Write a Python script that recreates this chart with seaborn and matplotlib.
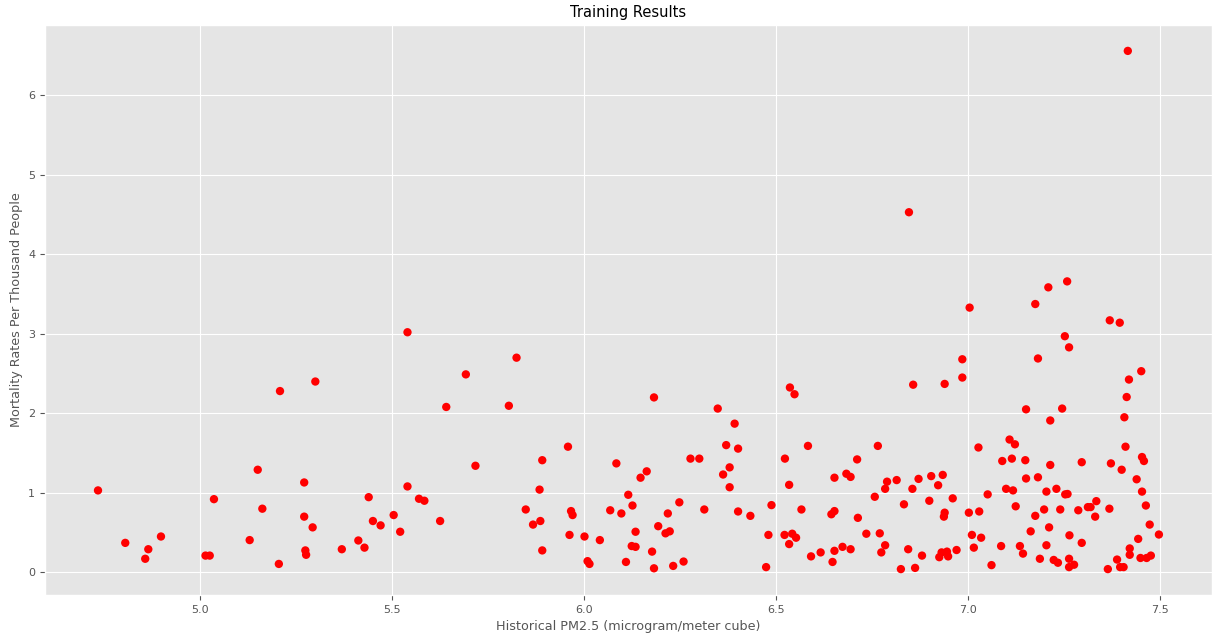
import matplotlib
matplotlib.use("Agg")
import matplotlib.pyplot as plt
import seaborn as sns
import pandas as pd

# Historical PM2.5 exposure (log scale units) and mortality per thousand people
pm25 = [
    4.735, 4.806, 4.866, 4.858, 4.899, 5.015, 5.026, 5.037, 5.130, 5.151, 5.163,
    5.541, 5.209, 5.301, 5.272, 5.272, 5.294, 5.275, 5.277, 5.206, 5.370, 5.413,
    5.429, 5.440, 5.451, 5.471, 5.505, 5.522, 5.541, 5.571, 5.585,
    5.626, 5.642, 5.693, 5.718, 5.805, 5.825, 5.849, 5.868, 5.887, 5.885, 5.892,
    5.892, 5.959, 5.967, 5.971, 5.963, 6.002, 6.010, 6.015, 6.042, 6.085, 6.069,
    6.098, 6.116, 6.127, 6.110, 6.125, 6.135, 6.135,
    6.148, 6.164, 6.183, 6.349, 6.393, 6.371, 6.402, 6.278, 6.301, 6.380, 6.363,
    6.380, 6.249, 6.219, 6.194, 6.213, 6.224, 6.314, 6.178, 6.183, 6.233, 6.260,
    6.402, 6.434, 6.489, 6.481, 6.475, 6.537, 6.549, 6.584, 6.524, 6.535, 6.567,
    6.523, 6.543, 6.553, 6.535, 6.592, 6.617, 6.645, 6.653, 6.648, 6.653, 6.653,
    7.005, 6.986, 6.986, 6.858, 6.940, 7.152, 6.766, 6.712, 6.684, 6.695, 6.790,
    6.785, 6.815, 6.872, 6.856, 6.905, 6.935, 6.923, 7.028, 7.090, 7.115, 7.109,
    7.123, 7.150, 7.152, 7.100, 7.118, 7.052, 6.758, 6.834, 6.900, 6.961, 6.714,
    6.940, 6.938, 7.003, 7.030, 7.125, 6.736, 6.771, 6.785, 6.674, 6.695, 6.775,
    6.845, 6.881, 6.826, 6.863, 6.926, 6.932, 6.946, 6.949, 6.971, 7.011, 7.035,
    7.016, 7.062, 7.087, 7.136, 7.144, 7.164,
    7.259, 7.210, 7.176, 7.370, 7.396, 7.253, 7.264, 7.183, 7.452, 7.420, 7.414,
    7.408, 7.246, 7.215, 7.411, 7.297, 7.373, 7.454, 7.459, 7.215, 7.183, 7.401,
    7.440, 7.205, 7.231, 7.254, 7.260, 7.335, 7.313, 7.320, 7.288, 7.332, 7.369,
    7.454, 7.464, 7.474, 7.498, 7.199, 7.241, 7.176, 7.212, 7.265, 7.205, 7.297,
    7.188, 7.224, 7.235, 7.264, 7.264, 7.277, 7.365, 7.389, 7.397, 7.406, 7.422,
    7.422, 7.444, 7.450, 7.466, 7.477,
    7.417, 6.847,
]

mortality = [
    1.03, 0.37, 0.29, 0.17, 0.45, 0.21, 0.21, 0.92, 0.405, 1.29, 0.80,
    3.02, 2.28, 2.40, 1.13, 0.70, 0.565, 0.275, 0.22, 0.105, 0.29, 0.40,
    0.31, 0.945, 0.645, 0.59, 0.72, 0.51, 1.08, 0.925, 0.90,
    0.645, 2.08, 2.49, 1.34, 2.095, 2.70, 0.79, 0.60, 0.645, 1.04, 1.41,
    0.275, 1.58, 0.77, 0.72, 0.47, 0.45, 0.14, 0.105, 0.405, 1.37, 0.78,
    0.74, 0.975, 0.84, 0.13, 0.33, 0.32, 0.51,
    1.19, 1.27, 2.20, 2.06, 1.87, 1.60, 1.556, 1.43, 1.43, 1.32, 1.23,
    1.07, 0.88, 0.74, 0.58, 0.49, 0.515, 0.79, 0.26, 0.05, 0.08, 0.135,
    0.765, 0.71, 0.845, 0.47, 0.065, 2.325, 2.24, 1.59, 1.43, 1.10, 0.79,
    0.47, 0.485, 0.435, 0.355, 0.20, 0.25, 0.73, 0.77, 0.13, 0.27, 1.19,
    3.33, 2.68, 2.45, 2.36, 2.37, 2.05, 1.59, 1.42, 1.24, 1.20, 1.14,
    1.05, 1.16, 1.175, 1.05, 1.21, 1.225, 1.095, 1.57, 1.40, 1.43, 1.67,
    1.61, 1.41, 1.18, 1.05, 1.03, 0.98, 0.95, 0.855, 0.90, 0.93, 0.685,
    0.75, 0.70, 0.75, 0.765, 0.83, 0.485, 0.49, 0.34, 0.32, 0.29, 0.25,
    0.29, 0.21, 0.04, 0.055, 0.19, 0.25, 0.26, 0.20, 0.28, 0.47, 0.435,
    0.31, 0.09, 0.33, 0.33, 0.235, 0.515,
    3.66, 3.585, 3.375, 3.17, 3.14, 2.97, 2.83, 2.69, 2.53, 2.425, 2.205,
    1.95, 2.06, 1.91, 1.58, 1.385, 1.37, 1.45, 1.40, 1.35, 1.195, 1.29,
    1.17, 1.015, 1.05, 0.98, 0.985, 0.895, 0.82, 0.82, 0.78, 0.70, 0.80,
    1.015, 0.84, 0.60, 0.475, 0.79, 0.79, 0.71, 0.565, 0.465, 0.34, 0.37,
    0.17, 0.155, 0.12, 0.17, 0.065, 0.095, 0.04, 0.16, 0.065, 0.065, 0.22,
    0.30, 0.42, 0.18, 0.18, 0.21,
    6.56, 4.53,
]

df = pd.DataFrame({"pm25": pm25, "mortality": mortality})

plt.style.use("ggplot")
fig, ax = plt.subplots(figsize=(12.15, 6.34), dpi=100)
fig.subplots_adjust(left=0.037, right=0.9975, top=0.9606, bottom=0.0615)

sns.scatterplot(data=df, x="pm25", y="mortality", color="red",
                edgecolor="none", linewidth=0, s=36, ax=ax)

ax.set_title("Training Results", fontsize=10.5, color="black")
ax.set_xlabel("Historical PM2.5 (microgram/meter cube)", fontsize=9.2)
ax.set_ylabel("Mortality Rates Per Thousand People", fontsize=9.2)
ax.tick_params(labelsize=8)

fig.savefig("out.png", dpi=100)
